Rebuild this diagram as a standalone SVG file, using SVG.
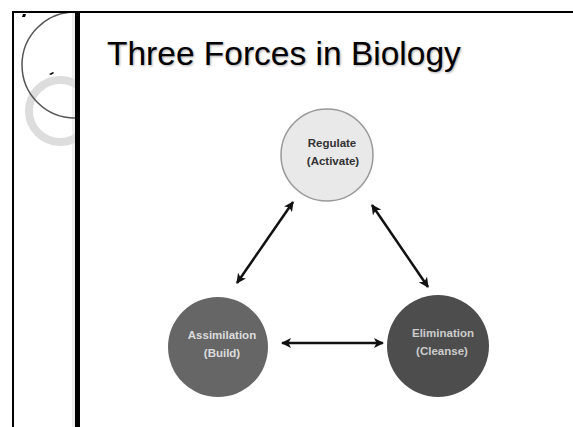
<svg xmlns="http://www.w3.org/2000/svg" width="573" height="427" viewBox="0 0 573 427">
  <style>
    .lbl { font-family: "Liberation Sans", Arial, sans-serif; font-weight: bold; font-size: 11.5px; text-anchor: middle; }
    .conn { stroke: #111; stroke-width: 2.5; fill: none; marker-start: url(#ah); marker-end: url(#ah); }
  </style>
  <defs>
    <marker id="ah" viewBox="0 0 10 10" refX="9" refY="5" markerWidth="4" markerHeight="4" orient="auto-start-reverse" markerUnits="strokeWidth">
      <path d="M0,0 L10,5 L0,10 L2.5,5 z" fill="#111"/>
    </marker>
    <clipPath id="strip"><rect x="14" y="13" width="61" height="414"/></clipPath>
    <filter id="sh" x="-5%" y="-20%" width="110%" height="140%">
      <feGaussianBlur stdDeviation="1"/>
    </filter>
  </defs>
  <rect width="573" height="427" fill="#fff"/>

  <g id="frame">
    <rect x="72" y="12" width="3" height="415" fill="#eee"/>
    <g clip-path="url(#strip)">
      <circle cx="60" cy="111" r="31" fill="none" stroke="#ddd" stroke-width="8"/>
      <circle cx="75" cy="65" r="53" fill="none" stroke="#555" stroke-width="1.5"/>
    </g>
    <line x1="12" y1="12" x2="573" y2="12" stroke="#000" stroke-width="2"/>
    <line x1="13" y1="12" x2="13" y2="427" stroke="#000" stroke-width="2"/>
    <rect x="75" y="12" width="5" height="415" fill="#000"/>
    <path d="M23,14 L26,14 L25,17 L22,17 z" fill="#000"/>
    <path d="M49,74 L53,72 L54,73 L51,75 z" fill="#000"/>
  </g>

  <g id="title">
    <text x="108" y="66" font-family="Liberation Sans, Arial, sans-serif" font-size="33.5" fill="#aaa" filter="url(#sh)">Three Forces in Biology</text>
    <text x="107" y="65" font-family="Liberation Sans, Arial, sans-serif" font-size="33.5" fill="#000">Three Forces in Biology</text>
  </g>

  <g id="connectors">
    <line class="conn" x1="237" y1="283" x2="293" y2="202"/>
    <line class="conn" x1="372" y1="205" x2="428" y2="287"/>
    <line class="conn" x1="282" y1="343" x2="383" y2="343"/>
  </g>

  <g id="regulate">
    <circle cx="327" cy="155" r="46" fill="#e9e9e9" stroke="#999" stroke-width="1.5"/>
    <text class="lbl" x="332" y="147" fill="#333">Regulate</text>
    <text class="lbl" x="333" y="165" fill="#333">(Activate)</text>
  </g>

  <g id="assimilation">
    <circle cx="218" cy="347" r="50" fill="#666"/>
    <text class="lbl" x="222" y="339" fill="#ddd">Assimilation</text>
    <text class="lbl" x="222" y="357" fill="#ddd">(Build)</text>
  </g>

  <g id="elimination">
    <circle cx="438" cy="346" r="51" fill="#4d4d4d"/>
    <text class="lbl" x="443" y="337" fill="#ccc">Elimination</text>
    <text class="lbl" x="442" y="355" fill="#ccc">(Cleanse)</text>
  </g>
</svg>
